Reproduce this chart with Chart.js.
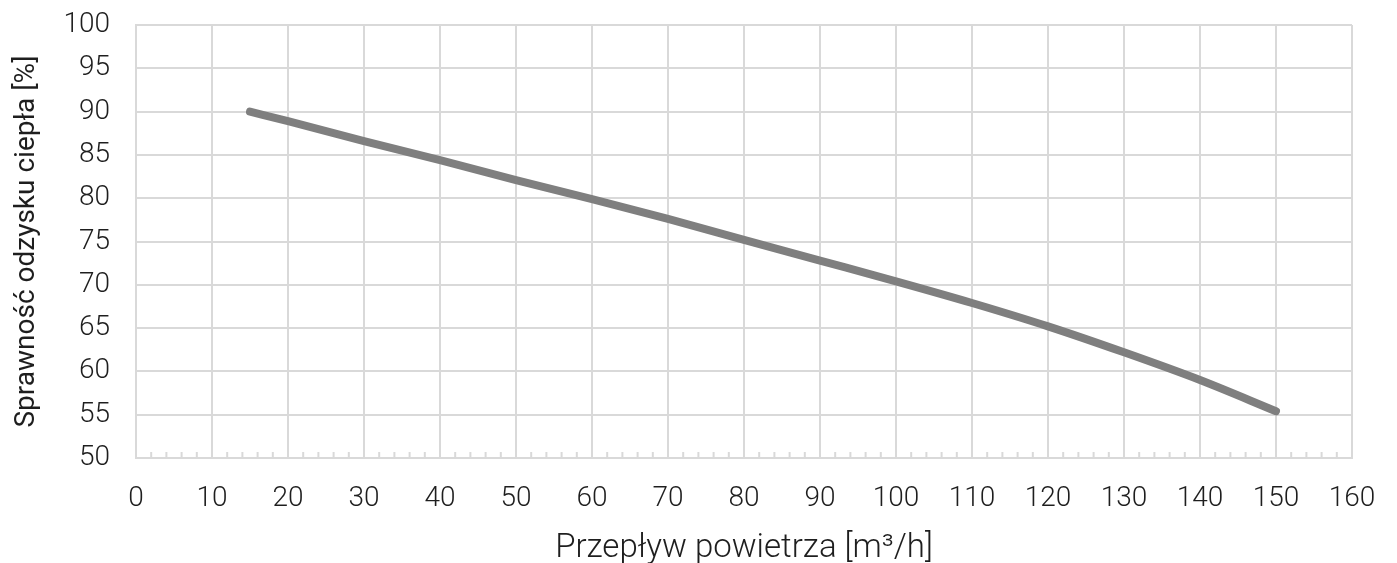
<!DOCTYPE html>
<html>
<head>
<meta charset="utf-8">
<script src="https://cdn.jsdelivr.net/npm/chart.js@4.4.1/dist/chart.umd.min.js"></script>
<style>
  html, body { margin: 0; padding: 0; background: #fff; }
  #wrap { width: 1397px; height: 563px; }
</style>
</head>
<body>
<div id="wrap"><canvas id="myChart" width="1397" height="563"></canvas></div>
<script>
'use strict';

// air flow [m3/h] vs heat recovery efficiency [%]
var flow = [15, 20, 30, 40, 50, 60, 70, 80, 90, 100, 110, 120, 130, 140, 150];
var efficiency = [90, 88.9, 86.6, 84.4, 82.1, 79.9, 77.6, 75.2, 72.8, 70.4, 67.9, 65.2, 62.2, 59.0, 55.4];
var xTitle = 'Przepływ powietrza [m³/h]';
var yTitle = 'Sprawność odzysku ciepła [%]';
const GRID = '#d9d9d9';
const TEXT = '#1e1e1e';

// small ticks every 2 units along the bottom axis, pointing up
var minorTicks = {
  id: 'minorTicks',
  afterDatasetsDraw: function (chart) {
    var ctx = chart.ctx;
    var x = chart.scales.x;
    var bottom = chart.chartArea.bottom;
    ctx.save();
    ctx.strokeStyle = GRID;
    ctx.lineWidth = 2;
    for (var v = x.min; v <= x.max; v += 2) {
      if (v % 10 === 0) continue;
      var px = x.getPixelForValue(v);
      ctx.beginPath();
      ctx.moveTo(px, bottom);
      ctx.lineTo(px, bottom - 6);
      ctx.stroke();
    }
    ctx.restore();
  }
};

var ctx = document.getElementById('myChart').getContext('2d');
var chart = new Chart(ctx, {
  type: 'line',
  data: {
    datasets: [{
      data: flow.map(function (f, i) { return { x: f, y: efficiency[i] }; }),
      borderColor: '#7f7f7f',
      borderWidth: 8,
      borderCapStyle: 'round',
      borderJoinStyle: 'round',
      pointRadius: 0,
      cubicInterpolationMode: 'monotone',
      fill: false
    }]
  },
  options: {
    responsive: false,
    animation: false,
    layout: { padding: { top: 25, right: 45, left: 0, bottom: 0 } },
    plugins: { legend: { display: false }, tooltip: { enabled: false } },
    scales: {
      x: {
        type: 'linear',
        min: 0, max: 160,
        ticks: { stepSize: 10, color: TEXT, padding: 24, font: { family: 'Roboto', size: 28, weight: 300 } },
        grid: { color: GRID, lineWidth: 2, drawTicks: false },
        border: { color: GRID, width: 2 },
        title: { display: true, text: xTitle, color: TEXT, padding: { top: 0, bottom: 0 }, font: { family: 'Roboto', size: 33, weight: 300, lineHeight: 0.85 } },
        afterFit: function (s) { s.height = 105; s.paddingLeft = 0; s.paddingRight = 0; }
      },
      y: {
        min: 50, max: 100,
        ticks: { stepSize: 5, color: TEXT, padding: 26, font: { family: 'Roboto', size: 28, weight: 300 } },
        grid: { color: GRID, lineWidth: 2, drawTicks: false },
        border: { color: GRID, width: 2 },
        title: { display: true, text: yTitle, color: TEXT, padding: { top: 10, bottom: 0 }, font: { family: 'Roboto', size: 28, weight: 400, lineHeight: 1.2 } },
        afterFit: function (s) { s.width = 136; s.paddingTop = 0; s.paddingBottom = 0; }
      }
    }
  },
  plugins: [minorTicks]
});
</script>
</body>
</html>
